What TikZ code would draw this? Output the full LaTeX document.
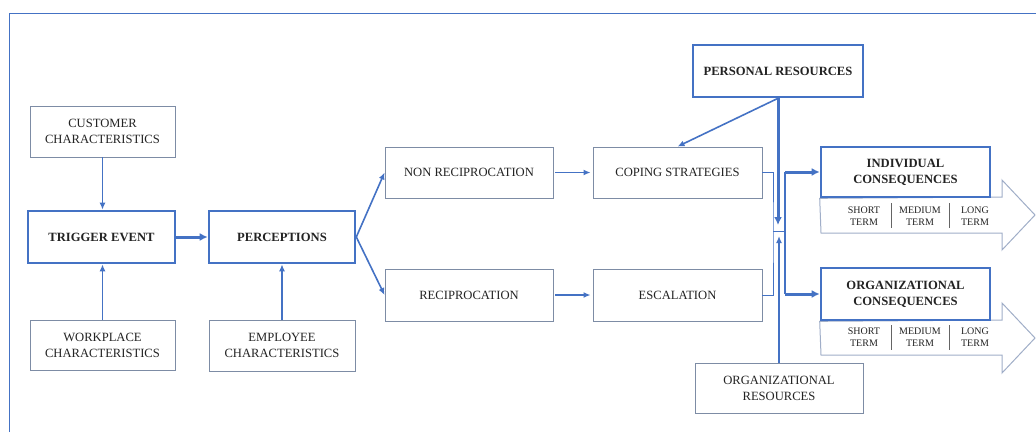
\documentclass[tikz,border=0pt]{standalone}
\usepackage{fontspec}
\setmainfont{Liberation Serif}
\usetikzlibrary{arrows.meta,calc,backgrounds}
\definecolor{accent}{RGB}{68,114,196}
\definecolor{rim}{RGB}{125,140,165}
\definecolor{pale}{RGB}{160,174,200}
\definecolor{ink}{RGB}{35,35,35}

\begin{document}
\begin{tikzpicture}[x=1pt,y=-1pt,
  plain/.style={draw=rim, line width=0.9pt, fill=white, text=ink, align=center, inner sep=0pt,
    font=\fontsize{12.6}{16}\selectfont},
  strong/.style={draw=accent, line width=2.6pt, fill=white, text=ink, align=center, inner sep=0pt,
    font=\fontsize{12.6}{16}\selectfont\bfseries},
  termlabel/.style={text=ink, align=center, inner sep=0pt, font=\fontsize{10}{12}\selectfont},
  link/.style={draw=accent, line width=1.6pt, -{Latex[length=7pt,width=6pt]}},
  heavy/.style={draw=accent, line width=3pt, -{Latex[length=8pt,width=8pt]}},
  bracket/.style={draw=accent, line width=0.9pt},
  divider/.style={draw=ink!70, line width=0.8pt},
  bigarrow/.style={draw=pale, line width=1pt, fill=white, line join=miter}
]
\useasboundingbox (0,0) rectangle (1036,432);

% outer frame (top and left edges)
\draw[accent, line width=1.6pt] (9.5,432) -- (9.5,13.5) -- (1036,13.5);

% left column
\node[plain, minimum width=145pt, minimum height=51pt] (cust) at (102.5,131.5) {CUSTOMER\\CHARACTERISTICS};
\node[strong, minimum width=147pt, minimum height=52pt] (trig) at (101.5,237) {TRIGGER EVENT};
\node[plain, minimum width=145pt, minimum height=50pt] (work) at (102.5,345) {WORKPLACE\\CHARACTERISTICS};

\node[strong, minimum width=146pt, minimum height=52pt] (perc) at (282,237) {PERCEPTIONS};
\node[plain, minimum width=146pt, minimum height=51pt] (empl) at (282,345.5) {EMPLOYEE\\CHARACTERISTICS};

% middle column
\node[plain, minimum width=168pt, minimum height=51pt] (nonrec) at (469,172.5) {NON RECIPROCATION};
\node[plain, minimum width=168pt, minimum height=52pt] (rec) at (469,295) {RECIPROCATION};
\node[plain, minimum width=169pt, minimum height=51pt] (cop) at (677.5,172.5) {COPING STRATEGIES};
\node[plain, minimum width=169pt, minimum height=52pt] (esc) at (677.5,295) {ESCALATION};

% resources
\node[strong, minimum width=170pt, minimum height=52pt] (pers) at (778,71) {PERSONAL RESOURCES};
\node[plain, minimum width=168pt, minimum height=50pt] (orgres) at (779,388) {ORGANIZATIONAL\\RESOURCES};

% consequences
\node[strong, minimum width=169pt, minimum height=50pt] (indiv) at (905.5,172) {INDIVIDUAL\\CONSEQUENCES};
\node[strong, minimum width=169pt, minimum height=52pt] (orgcon) at (905.5,294) {ORGANIZATIONAL\\CONSEQUENCES};

% time-line arrows behind the consequence boxes
\begin{scope}[on background layer]
  \draw[bigarrow] (indiv.south west) -- (1002,197) -- (1002,180) -- (1035,215)
    -- (1002,250) -- (1002,233) -- (821,233) -- cycle;
  \draw[bigarrow] (orgcon.south west) -- (1002,320) -- (1002,303) -- (1035,338)
    -- (1002,373) -- (1002,355) -- (821,355) -- cycle;
\end{scope}

% term labels
\node[termlabel] (ishort) at (864,216) {SHORT\\TERM};
\node[termlabel] (imed) at (920,216) {MEDIUM\\TERM};
\node[termlabel] (ilong) at (975,216) {LONG\\TERM};
\draw[divider] (891,203) -- (891,228);
\draw[divider] (949,203) -- (949,228);

\node[termlabel] (oshort) at (864,337.5) {SHORT\\TERM};
\node[termlabel] (omed) at (920,337.5) {MEDIUM\\TERM};
\node[termlabel] (olong) at (975,337.5) {LONG\\TERM};
\draw[divider] (891,325) -- (891,350);
\draw[divider] (949,325) -- (949,350);

% connectors on the left
\draw[link] (cust.south) -- (cust.south |- trig.north);
\draw[link] (work.north) -- (work.north |- trig.south);
\draw[link] (empl.north) -- (empl.north |- perc.south);
\draw[heavy] (trig.east) -- (perc.west);
\draw[link] (perc.east) -- (nonrec.west);
\draw[link] (perc.east) -- (rec.west);
\draw[link, shorten <=2pt, shorten >=2pt] (nonrec.east) -- (cop.west);
\draw[link, shorten <=2pt, shorten >=2pt] (rec.east) -- (esc.west);

% junction where the resources meet
\coordinate (jl) at (773,231);
\coordinate (jr) at (785,231);
\coordinate (jt) at (778,225);
\coordinate (jb) at (779,236);

\draw[link] (pers.south) -- (cop.north);
\draw[heavy] (pers.south) -- (jt);
\draw[link, line width=2pt] (orgres.north) -- (jb);
\draw[bracket] (cop.east) -| (jl) |- (esc.east);
\draw[bracket] (jl) -- (jr);
\draw[accent, line width=2pt] (indiv.west -| jr) -- (orgcon.west -| jr);
\draw[heavy] (indiv.west -| jr) -- (indiv.west);
\draw[heavy] (orgcon.west -| jr) -- (orgcon.west);
\end{tikzpicture}
\end{document}
